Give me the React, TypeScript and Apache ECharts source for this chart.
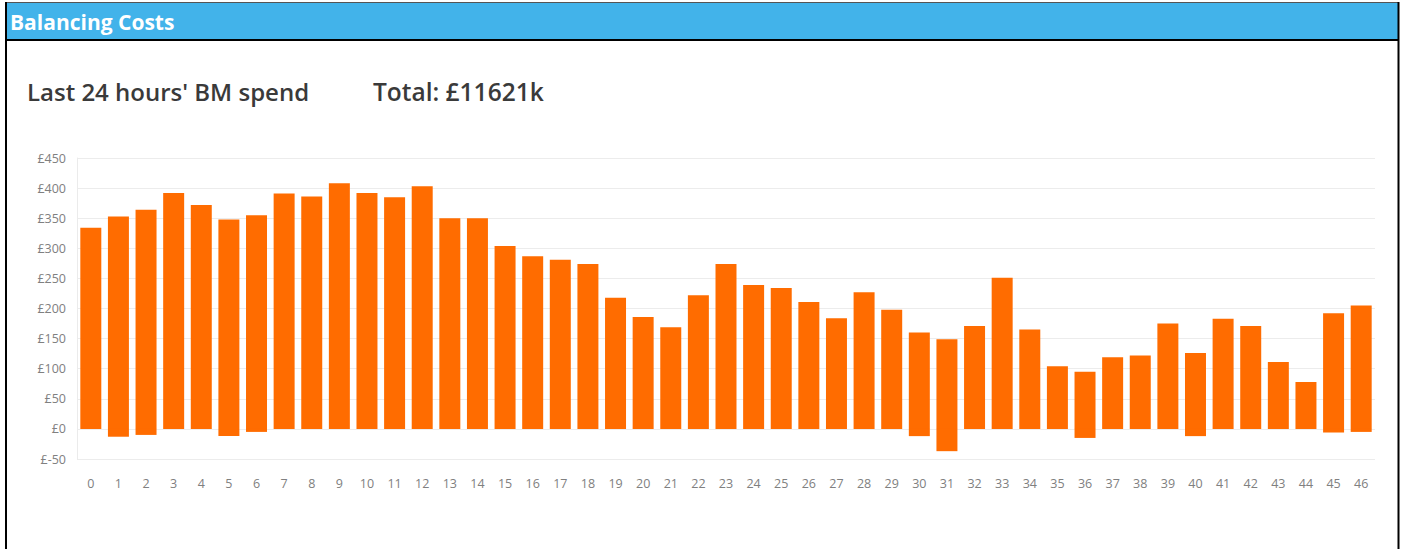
import React, { useEffect, useRef } from "react";
import * as echarts from "echarts";

const categories = Array.from({ length: 47 }, (_, i) => String(i));
const positiveSpend = [
  334, 353, 364, 392, 372, 348, 355, 391, 386, 408,
  392, 385, 403, 350, 350, 304, 287, 281, 274, 218,
  186, 169, 222, 274, 239, 234, 211, 184, 227, 198,
  160, 149, 171, 251, 165, 104, 95, 119, 122, 175,
  126, 183, 171, 111, 78, 192, 205,
];
const negativeSpend = [
  0, -13, -10, 0, 0, -12, -5, 0, 0, 0,
  0, 0, 0, 0, 0, 0, 0, 0, 0, 0,
  0, 0, 0, 0, 0, 0, 0, 0, 0, 0,
  -12, -37, 0, 0, 0, 0, -15, 0, 0, 0,
  -12, 0, 0, 0, 0, -6, -5,
];
const headerText = "Balancing Costs";
const subtitleText = "Last 24 hours' BM spend";
const totalText = "Total: £11621k";

export default function App() {
  const ref = useRef<HTMLDivElement>(null);
  useEffect(() => {
    document.body.style.margin = "0";
    if (!ref.current) return;
    const chart = echarts.init(ref.current, undefined, { renderer: "svg" });
    const barColor = "#ff6c00";
    chart.setOption({
      animation: false,
      backgroundColor: "#ffffff",
      graphic: [
        { type: "rect", shape: { x: 5, y: 2, width: 1394, height: 38 }, style: { fill: "#42b3ea" } },
        { type: "line", shape: { x1: 5, y1: 2.5, x2: 1399, y2: 2.5 }, style: { stroke: "#555", lineWidth: 1 } },
        { type: "line", shape: { x1: 5, y1: 40, x2: 1399, y2: 40 }, style: { stroke: "#000", lineWidth: 2 } },
        { type: "line", shape: { x1: 6, y1: 2, x2: 6, y2: 549 }, style: { stroke: "#000", lineWidth: 2 } },
        { type: "line", shape: { x1: 1398.5, y1: 2, x2: 1398.5, y2: 549 }, style: { stroke: "#000", lineWidth: 2 } },
        {
          type: "text", x: 10, y: 22,
          style: { text: headerText, fill: "#ffffff", font: "bold 21px 'Open Sans', sans-serif", textVerticalAlign: "middle" },
        },
        {
          type: "text", x: 27, y: 91,
          style: { text: subtitleText, fill: "#3a3a3a", font: "600 24px 'Open Sans', sans-serif", textVerticalAlign: "middle" },
        },
        {
          type: "text", x: 373, y: 91,
          style: { text: totalText, fill: "#3a3a3a", font: "600 24.5px 'Open Sans', sans-serif", textVerticalAlign: "middle" },
        },
      ],
      grid: { left: 77, right: 27, top: 158, bottom: 90, containLabel: false },
      xAxis: {
        type: "category",
        data: categories,
        axisLine: { show: false },
        axisTick: { show: false },
        axisLabel: { color: "#808080", fontSize: 12.5, margin: 18, interval: 0, fontFamily: "'Open Sans', sans-serif" },
      },
      yAxis: {
        type: "value",
        min: -50,
        max: 450,
        interval: 50,
        axisLine: { show: true, lineStyle: { color: "#ebebeb" } },
        axisTick: { show: false },
        splitLine: { lineStyle: { color: "#ececec" } },
        axisLabel: {
          color: "#808080",
          fontSize: 12.5,
          margin: 11,
          fontFamily: "'Open Sans', sans-serif",
          formatter: (v: number) => `£${v}`,
        },
      },
      series: [
        {
          type: "bar",
          stack: "spend",
          data: positiveSpend,
          barCategoryGap: "24%",
          itemStyle: { color: barColor },
        },
        {
          type: "bar",
          stack: "spend",
          data: negativeSpend,
          barCategoryGap: "24%",
          itemStyle: { color: barColor },
        },
      ],
    });
    return () => chart.dispose();
  }, []);
  return <div ref={ref} style={{ width: 1402, height: 549 }} />;
}
